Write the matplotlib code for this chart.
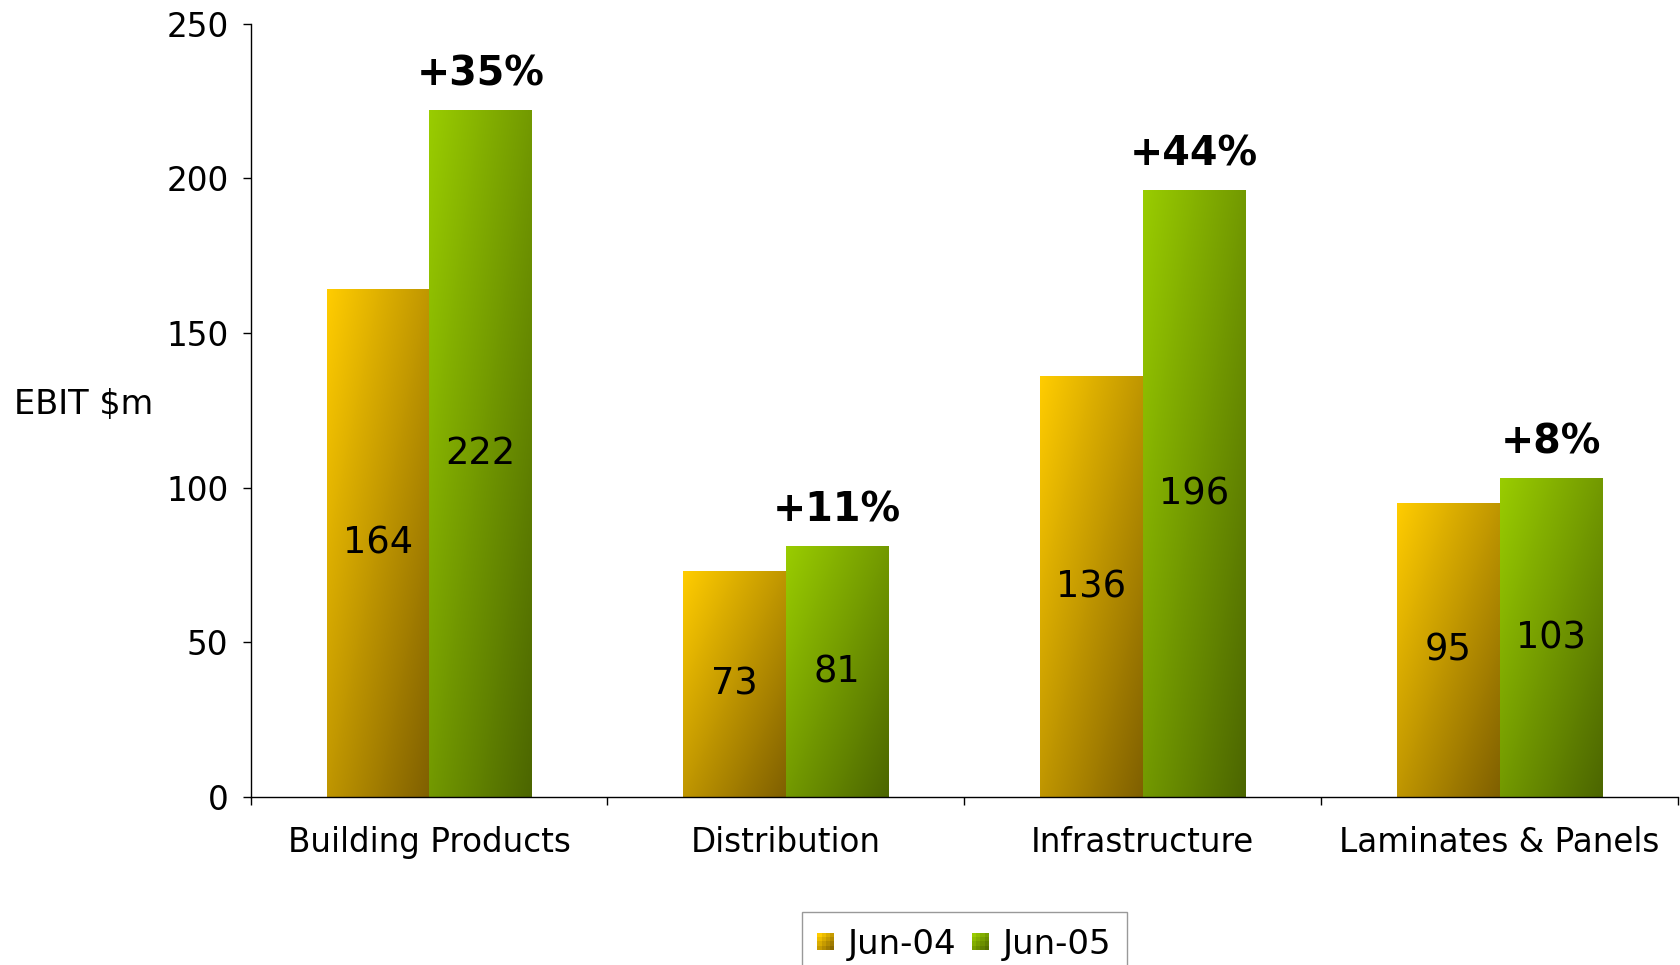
import numpy as np
import matplotlib
matplotlib.use('Agg')
import matplotlib.pyplot as plt
from matplotlib.colors import LinearSegmentedColormap
from matplotlib.patches import Rectangle
from matplotlib.legend_handler import HandlerBase

categories = ['Building Products', 'Distribution', 'Infrastructure',
              'Laminates & Panels']
jun04 = [164, 73, 136, 95]
jun05 = [222, 81, 196, 103]
growth = ['+35%', '+11%', '+44%', '+8%']
series_names = ['Jun-04', 'Jun-05']

# diagonal shading: bright at the top-left corner, dark at the bottom-right
cmap04 = LinearSegmentedColormap.from_list('gold', ['#FFCC00', '#806000'])
cmap05 = LinearSegmentedColormap.from_list('lime', ['#99CC00', '#4C6600'])

plt.rcParams['font.family'] = ['DejaVu Sans']

fig = plt.figure(figsize=(16.8, 9.65), dpi=100)
ax = fig.add_axes([0.1492, 0.1741, 0.8496, 0.8014])

width = 0.287
x = np.arange(len(categories))

# diagonal ramp used for every bar
u = np.linspace(0, 1, 64)
ramp = (u[None, :] + u[:, None]) / 2.0


def gradient_bar(ax, left, height, w, cmap):
    ax.imshow(ramp, cmap=cmap, vmin=0, vmax=1, origin='upper',
              extent=(left, left + w, 0, height), aspect='auto',
              interpolation='bilinear', zorder=2)


for i in range(len(categories)):
    gradient_bar(ax, x[i] - width, jun04[i], width, cmap04)
    gradient_bar(ax, x[i], jun05[i], width, cmap05)
    ax.text(x[i] - width / 2, jun04[i] / 2, str(jun04[i]), ha='center',
            va='center', fontsize=26.5, zorder=3)
    ax.text(x[i] + width / 2, jun05[i] / 2, str(jun05[i]), ha='center',
            va='center', fontsize=26.5, zorder=3)
    ax.annotate(growth[i], (x[i] + width / 2, jun05[i]),
                xytext=(0, 26), textcoords='offset points', ha='center',
                va='center', fontsize=28.5, fontweight='bold')

ax.set_xlim(-0.5, len(categories) - 0.5)
ax.set_ylim(0, 250)
ax.set_aspect('auto')

ax.spines['top'].set_visible(False)
ax.spines['right'].set_visible(False)
for s in ('left', 'bottom'):
    ax.spines[s].set_linewidth(1.0)
    ax.spines[s].set_color('black')

ax.set_yticks(np.arange(0, 251, 50))
ax.tick_params(axis='y', direction='out', length=6, width=1, pad=10,
               labelsize=23.5)
ax.set_xticks(x)
ax.set_xticklabels(categories)
ax.tick_params(axis='x', which='major', length=0, pad=21, labelsize=23.5)
ax.set_xticks(np.arange(-0.5, len(categories), 1.0), minor=True)
ax.tick_params(axis='x', which='minor', direction='out', length=6, width=1)

ax.text(-0.0685, 0.507, 'EBIT $m', transform=ax.transAxes, ha='right',
        va='center', fontsize=24.2)


class GradientSquare(HandlerBase):
    def __init__(self, cmap, n=4):
        super().__init__()
        self.cmap = cmap
        self.n = n

    def create_artists(self, legend, orig_handle, xdescent, ydescent,
                       width, height, fontsize, trans):
        size = min(width, height)
        x0 = -xdescent + (width - size) / 2
        y0 = -ydescent + (height - size) / 2
        step = size / self.n
        patches = []
        for r in range(self.n):
            for c in range(self.n):
                t = (c + r) / (2.0 * (self.n - 1)) * 0.9
                patches.append(Rectangle((x0 + c * step,
                                          y0 + size - (r + 1) * step),
                                         step, step, facecolor=self.cmap(t),
                                         edgecolor='none', transform=trans))
        return patches


h04 = Rectangle((0, 0), 1, 1)
h05 = Rectangle((0, 0), 1, 1)
leg = ax.legend([h04, h05], series_names, loc='upper center',
                bbox_to_anchor=(0.5, -0.149), ncol=2, fontsize=24.5,
                frameon=True, fancybox=False, borderpad=0.45,
                handlelength=0.5, handleheight=0.5, handletextpad=0.4,
                columnspacing=0.45, borderaxespad=0,
                handler_map={h04: GradientSquare(cmap04),
                             h05: GradientSquare(cmap05)})
leg.get_frame().set_edgecolor('#808080')
leg.get_frame().set_linewidth(1.0)

fig.savefig('out.png', dpi=100, facecolor='white')
